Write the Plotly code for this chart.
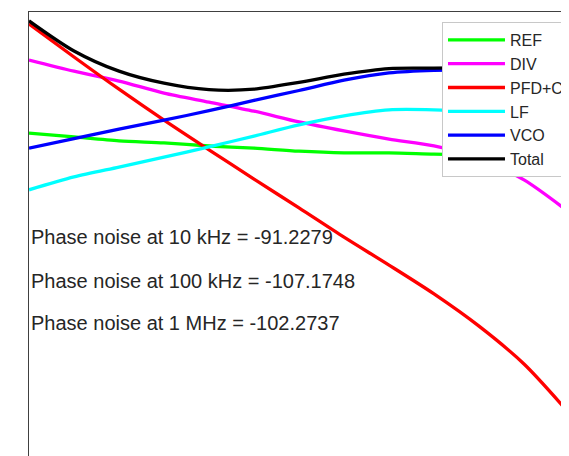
import plotly.graph_objects as go

# Offset frequency (Hz), log-spaced
freq_hz = [1e4, 1.7783e4, 3.1623e4, 5.6234e4, 1e5, 1.7783e5, 3.1623e5,
           5.6234e5, 1e6, 1.7783e6, 3.1623e6, 5.6234e6, 1e7]

# Phase noise contributions (dBc/Hz)
ref = [-117.3, -118.2, -119.1, -119.6, -120.3, -120.8, -121.5, -121.9, -121.9, -122.2, -122.4, -122.6, -122.9]
div = [-100.3, -102.9, -105.2, -108.0, -110.1, -112.2, -114.7, -116.8, -118.7, -120.3, -123.1, -128.2, -135.7]
pfd_cp = [-91.9, -99.6, -107.1, -114.3, -121.2, -128.0, -134.7, -141.5, -148.0, -154.7, -162.2, -171.0, -182.4]
lf = [-130.5, -127.5, -125.2, -122.9, -120.5, -118.0, -115.4, -113.3, -111.9, -111.9, -112.4, -113.1, -113.8]
vco = [-120.8, -118.6, -116.4, -114.3, -112.1, -109.7, -107.4, -105.0, -103.3, -102.7, -102.6, -102.6, -102.6]
total = [-91.2, -98.2, -102.9, -105.7, -107.2, -107.1, -105.5, -103.6, -102.3, -102.2, -102.1, -102.1, -102.1]

series_names = ["REF", "DIV", "PFD+CP", "LF", "VCO", "Total"]
series_values = [ref, div, pfd_cp, lf, vco, total]
series_colors = ["#00ff00", "#ff00ff", "#ff0000", "#00ffff", "#0000ff", "#000000"]

notes = ["Phase noise at 10 kHz = -91.2279",
         "Phase noise at 100 kHz = -107.1748",
         "Phase noise at 1 MHz = -102.2737"]
note_y = [0.493, 0.394, 0.300]

fig = go.Figure()
for name, vals, col in zip(series_names, series_values, series_colors):
    fig.add_trace(go.Scatter(x=freq_hz, y=vals, mode="lines", name=name,
                             line=dict(color=col, width=3.3, shape="spline", smoothing=0.8)))

for t, yy in zip(notes, note_y):
    fig.add_annotation(text=t, xref="paper", yref="paper", x=0, y=yy,
                       xanchor="left", yanchor="middle", showarrow=False,
                       font=dict(size=20, color="#262626", family="Liberation Sans, Arial"))

fig.update_layout(
    width=561, height=448,
    margin=dict(l=21, r=0, t=4, b=0, autoexpand=False),
    paper_bgcolor="white", plot_bgcolor="white",
    font=dict(family="Liberation Sans, Arial", color="#262626"),
    showlegend=True,
    legend=dict(x=0.7648, y=0.9775, xanchor="left", yanchor="top",
                bgcolor="white", bordercolor="#c8c8c8", borderwidth=1,
                font=dict(size=16, color="#262626"), itemwidth=57),
    xaxis=dict(type="log", range=[4, 7], showgrid=False, zeroline=False,
               showticklabels=False, ticks="", showline=True, side="top",
               linecolor="#404040", linewidth=1),
    yaxis=dict(range=[-192.4, -89.14], showgrid=False, zeroline=False,
               showticklabels=False, ticks="", showline=True,
               linecolor="#404040", linewidth=1),
)

fig.write_html("out.html")
